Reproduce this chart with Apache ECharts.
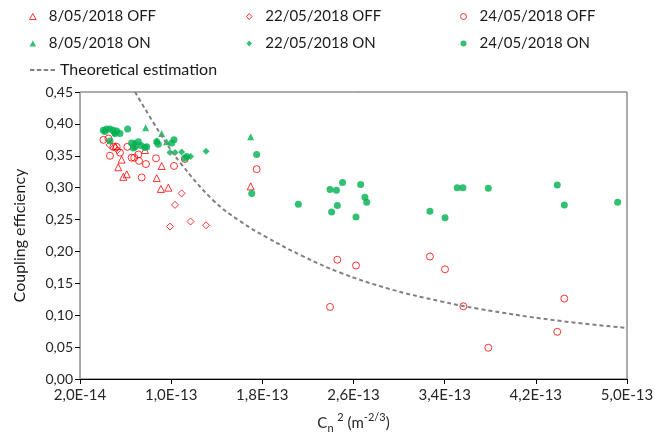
<!DOCTYPE html>
<html>
<head>
<meta charset="utf-8">
<script src="https://cdn.jsdelivr.net/npm/echarts@6/dist/echarts.min.js"></script>
<style>html,body{margin:0;padding:0;background:#fff}#c{width:655px;height:435px}</style>
</head>
<body>
<div id="c"></div>
<script>
// Cn2 values are stored in units of 1E-14 m^-2/3
const xTicks = [2, 10, 18, 26, 34, 42, 50];
const yTicks = [0, 0.05, 0.10, 0.15, 0.20, 0.25, 0.30, 0.35, 0.40, 0.45];

const off0805 = [[5.1,0.365],[5.36,0.332],[5.65,0.344],[5.8,0.317],[6.1,0.321],[7.7,0.359],[8.73,0.315],[9.17,0.334],[9.1,0.298],[9.75,0.300],[16.98,0.302]];
const off2205 = [[4.6,0.367],[5.3,0.359],[10.92,0.291],[10.34,0.273],[9.9,0.239],[11.7,0.247],[13.06,0.241]];
const off2405 = [[4.05,0.375],[4.5,0.377],[4.93,0.364],[5.22,0.364],[4.63,0.350],[5.51,0.355],[6.15,0.364],[6.53,0.347],[6.76,0.347],[7.12,0.352],[7.18,0.342],[7.79,0.337],[8.67,0.346],[7.41,0.316],[10.25,0.334],[11.2,0.345],[17.5,0.329],[24.58,0.187],[26.22,0.178],[23.94,0.113],[32.71,0.192],[34.03,0.172],[35.64,0.114],[37.83,0.049],[43.88,0.074],[44.5,0.126]];
const on0805 = [[7.76,0.394],[8.75,0.374],[9.17,0.385],[9.6,0.372],[16.98,0.380]];
const on2205 = [[5.0,0.385],[6.8,0.370],[9.9,0.355],[10.34,0.355],[10.92,0.356],[11.7,0.349],[13.06,0.357]];
const on2405 = [[4.05,0.390],[4.34,0.392],[4.63,0.392],[4.92,0.390],[5.22,0.389],[5.51,0.385],[4.19,0.388],[5.07,0.385],[4.63,0.373],[6.18,0.392],[6.53,0.370],[6.83,0.364],[7.12,0.372],[7.35,0.366],[7.7,0.363],[7.85,0.364],[6.68,0.362],[8.73,0.372],[8.87,0.368],[10.25,0.375],[10.05,0.370],[11.2,0.346],[11.36,0.349],[17.5,0.352],[17.07,0.291],[21.16,0.274],[23.94,0.297],[24.5,0.296],[25.04,0.308],[26.63,0.305],[27.0,0.285],[27.16,0.277],[24.58,0.272],[24.08,0.262],[26.22,0.254],[32.71,0.263],[34.03,0.253],[35.1,0.300],[35.6,0.300],[37.83,0.299],[43.88,0.304],[44.5,0.273],[49.18,0.277]];
const theory = [[6.83,0.45],[9.0,0.386],[10.8,0.339],[13.7,0.280],[16.0,0.248],[18.4,0.222],[21.5,0.193],[24.8,0.167],[29.2,0.141],[33.6,0.122],[37.0,0.110],[43.5,0.0925],[50,0.080]];

const RED = '#ff0000', GREEN = '#00b050', FONT = 'Lato';
const names = ['8/05/2018 OFF','22/05/2018 OFF','24/05/2018 OFF','8/05/2018 ON','22/05/2018 ON','24/05/2018 ON','Theoretical estimation'];

const TRI = 'path://M5,0L10,9L0,9Z';
const DIA = 'path://M5,0L10,5.5L5,11L0,5.5Z';
const DASH = 'path://M0,0h4.5v2h-4.5z M7,0h4.5v2h-4.5z M14,0h4.5v2h-4.5z M21,0h4.5v2h-4.5z';

function fmtX(v) {
  const e = Math.floor(Math.log10(v) + 1e-9);
  const m = v / Math.pow(10, e);
  const exp = e - 14;
  return m.toFixed(1).replace('.', ',') + 'E' + (exp < 0 ? '-' : '+') + String(Math.abs(exp)).padStart(2, '0');
}

function hollow(name, data, symbol) {
  return {name, type:'scatter', data, symbol, symbolSize: 7,
    itemStyle:{color:'rgba(255,255,255,0)', borderColor: RED, borderWidth: 1}};
}
function filled(name, data, symbol) {
  return {name, type:'scatter', data, symbol, symbolSize: 7,
    itemStyle:{color: GREEN}};
}

const legendText = {fontFamily: FONT, fontSize: 15, color: '#1a1a1a'};
function colLegend(a, b, iconA, iconB, left) {
  return {data:[{name: a, icon: iconA}, {name: b, icon: iconB}], left, top: 4, orient:'vertical',
    itemWidth: 22, itemHeight: 6, itemGap: 12, symbolKeepAspect: true, textStyle: legendText,
    itemStyle: {borderWidth: 1}};
}
const chart = echarts.init(document.getElementById('c'));
chart.setOption({
  animation: false,
  textStyle: {fontFamily: FONT},
  grid: {left: 80, right: 28, top: 92, bottom: 56, show: true, borderColor: '#595959', borderWidth: 1,
         containLabel: false, outerBoundsMode: 'none'},
  legend: [
    colLegend(names[0], names[3], TRI, TRI, 24),
    colLegend(names[1], names[4], DIA, DIA, 241),
    colLegend(names[2], names[5], 'circle', 'circle', 455),
    {data:[{name: names[6], icon: DASH}], left: 25, top: 57, itemWidth: 25, itemHeight: 2,
     symbolKeepAspect: false, textStyle: Object.assign({}, legendText, {fontSize: 16})}
  ],
  xAxis: {
    type: 'value', min: 2, max: 50, interval: 8,
    axisLine: {lineStyle: {color: '#000', width: 1}},
    axisTick: {show: true, length: 5, lineStyle: {color: '#000'}},
    splitLine: {show: false},
    axisLabel: {formatter: fmtX, fontFamily: FONT, fontSize: 15, color: '#262626', margin: 9},
    name: '{n|C}{sub|n}{n| }{sup|2}{n| (m}{sup|-2/3}{n|)}',
    nameLocation: 'middle', nameGap: 33,
    nameTextStyle: {rich: {
      n: {fontFamily: FONT, fontSize: 15, color: '#262626', lineHeight: 22, verticalAlign: 'middle'},
      sub: {fontFamily: FONT, fontSize: 11, color: '#262626', lineHeight: 22, verticalAlign: 'bottom'},
      sup: {fontFamily: FONT, fontSize: 11, color: '#262626', lineHeight: 22, verticalAlign: 'top'}
    }}
  },
  yAxis: {
    type: 'value', min: 0, max: 0.45, interval: 0.05,
    axisLine: {show: true, lineStyle: {color: '#a6a6a6', width: 1}},
    axisTick: {show: true, length: 5, lineStyle: {color: '#000'}},
    splitLine: {show: false},
    axisLabel: {formatter: v => v.toFixed(2).replace('.', ','), fontFamily: FONT, fontSize: 14, color: '#262626', margin: 7},
    name: 'Coupling efficiency', nameLocation: 'middle', nameGap: 52,
    nameTextStyle: {fontFamily: FONT, fontSize: 16, color: '#1a1a1a'}
  },
  series: [
    hollow(names[0], off0805, 'triangle'),
    hollow(names[1], off2205, 'diamond'),
    hollow(names[2], off2405, 'circle'),
    filled(names[3], on0805, 'triangle'),
    filled(names[4], on2205, 'diamond'),
    filled(names[5], on2405, 'circle'),
    {name: names[6], type: 'line', data: theory, smooth: 0.4, symbol: 'none', z: 3,
     lineStyle: {color: '#808080', width: 2, type: [4, 3]}, itemStyle: {color: '#808080'}}
  ]
});
</script>
</body>
</html>
